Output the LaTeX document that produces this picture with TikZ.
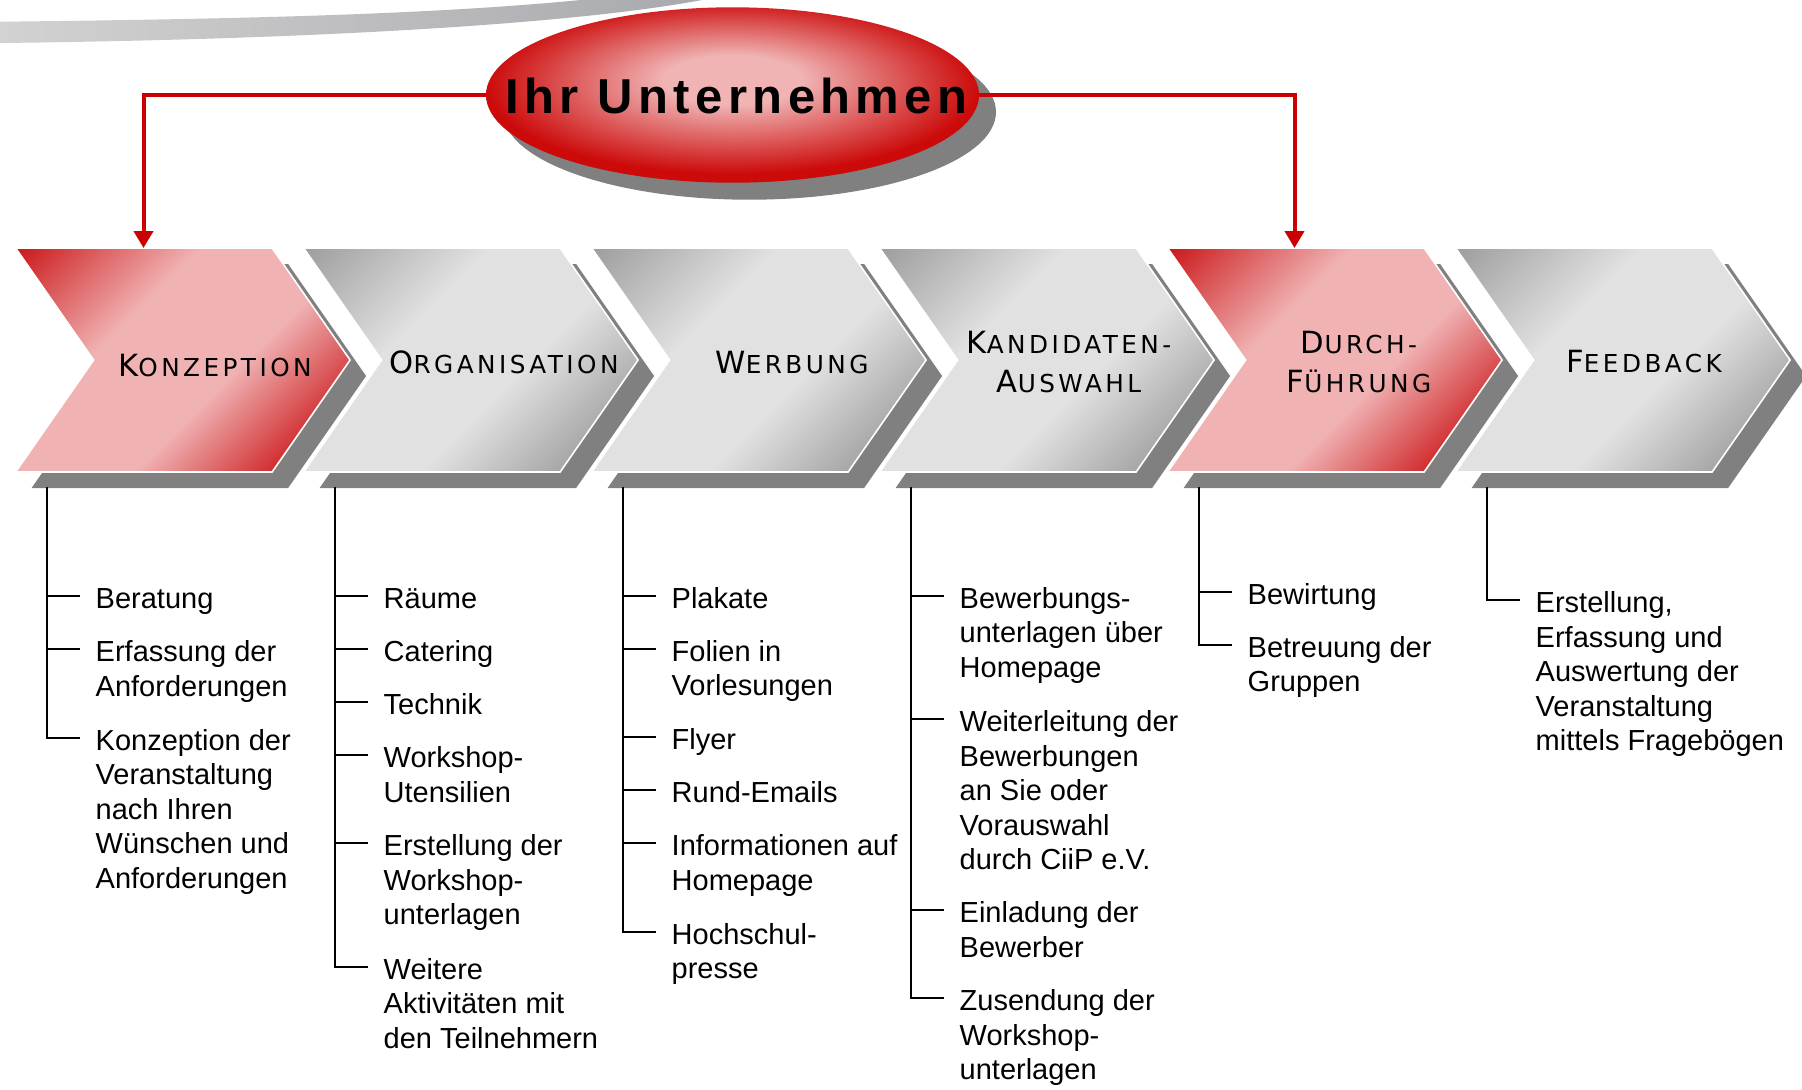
\documentclass[tikz,border=0pt]{standalone}
\usepackage{fontspec}
\setmainfont{Liberation Sans}
\newfontfamily\titlefont[LetterSpace=11]{Liberation Sans}
\newfontfamily\chevfont[LetterSpace=14]{DejaVu Sans}
\usetikzlibrary{shapes.geometric,arrows.meta}
\definecolor{rdark}{HTML}{CC1A1C}
\definecolor{rlight}{HTML}{F0B2B3}
\definecolor{gdark}{HTML}{9E9E9E}
\definecolor{glight}{HTML}{E1E1E1}
\definecolor{shad}{HTML}{808080}
\definecolor{arrred}{HTML}{CC0000}
\definecolor{ellred}{HTML}{CC0A0A}
\definecolor{ellpink}{HTML}{F0B4B4}
\definecolor{swl}{HTML}{D2D2D2}
\definecolor{swr}{HTML}{A8A9AD}
\pgfdeclarehorizontalshading{chevR}{100bp}{color(0bp)=(rdark); color(15bp)=(rdark); color(38bp)=(rlight); color(58bp)=(rlight); color(78bp)=(rdark); color(100bp)=(rdark)}
\pgfdeclarehorizontalshading{chevG}{100bp}{color(0bp)=(gdark); color(15bp)=(gdark); color(38bp)=(glight); color(58bp)=(glight); color(78bp)=(gdark); color(100bp)=(gdark)}
\pgfdeclareradialshading{ellshade}{\pgfpoint{0bp}{5bp}}{color(0bp)=(ellpink); color(7bp)=(ellpink); color(25bp)=(ellred); color(50bp)=(ellred)}

\newcommand\BigL[1]{{\fontsize{15.3pt}{19.2pt}\selectfont #1}}
\newcommand\SmL[1]{{\fontsize{12.35pt}{19.2pt}\selectfont #1}}

\newcommand\chevshape[2]{%
  \fill[shad] ({#1+16},264) -- ({#1+272.5},264) -- ({#1+350.5},376) -- ({#1+272.5},488) -- ({#1+16},488) -- ({#1+94},376) -- cycle;
  \path[shade, shading=#2, shading angle=-45, draw=white, line width=0.8pt] (#1,248) -- ({#1+256.5},248) -- ({#1+334.5},360) -- ({#1+256.5},472) -- (#1,472) -- ({#1+78},360) -- cycle;}

% #1 name, #2 column, #3 baseline of first line, #4 number of lines, #5 text
\newcommand\listentry[5]{%
  \node[listtxt] (#1) at ({95.3+288*#2},{#3+1.5+(#4-1)*34.5}) {#5};
  \draw[tickline] ({46.7+288*#2},{#3-11}) -- ++(32.5,0);}
\newcommand\listspine[2]{\draw[tickline] ({46.7+288*#1},488) -- ({46.7+288*#1},{#2-11});}

\tikzset{
  listtxt/.style={anchor=base west, inner sep=0pt, align=left, font=\fontsize{14.5pt}{17.25pt}\selectfont},
  tickline/.style={draw=black, line width=1pt, line cap=rect},
  chevlbl/.style={font=\chevfont\fontsize{12.35pt}{19.2pt}\selectfont, anchor=base, inner sep=0pt, align=center},
  conn/.style={draw=arrred, line width=2pt, -{Triangle[length=8.5pt,width=9.5pt]}}
}

\begin{document}
\begin{tikzpicture}[x=0.5pt,y=-0.5pt]
\useasboundingbox (0,0) rectangle (1802,1089);
\clip (0,0) rectangle (1802,1089);
\fill[white] (0,0) rectangle (1802,1089);

% swoosh
\shade[left color=swl, right color=swr] (0,43) .. controls (350,39) and (600,21) .. (712,-2) -- (600,-2) .. controls (450,14) and (250,19) .. (0,21.7) -- cycle;

% ellipse
\node[ellipse, fill=shad, minimum width=246.5pt, minimum height=87.7pt, inner sep=0pt] (ellshadow) at (749.5,112) {};
\node[ellipse, shading=ellshade, minimum width=246.5pt, minimum height=87.7pt, inner sep=0pt] (ell) at (732.5,95) {};
\node[font={\titlefont\bfseries\fontsize{24.5pt}{28pt}\selectfont}, anchor=base, inner sep=0pt] (title) at (736.5,113.8) {Ihr Unternehmen};

% chevrons
\chevshape{15.6}{chevR}
\chevshape{303.6}{chevG}
\chevshape{591.6}{chevG}
\chevshape{879.6}{chevG}
\chevshape{1167.6}{chevR}
\chevshape{1455.6}{chevG}

\coordinate (c1top) at (143.5,248);
\coordinate (c5top) at (1294.5,248);
\draw[conn] (ell.west) -| (c1top);
\draw[conn] (ell.east) -| (c5top);

\node[chevlbl] (k1) at (215,376.7) {\BigL{K}\SmL{ONZEPTION}};
\node[chevlbl] (k2) at (504,373.3) {\BigL{O}\SmL{RGANISATION}};
\node[chevlbl] (k3) at (792,373.5) {\BigL{W}\SmL{ERBUNG}};
\node[chevlbl] (k4) at (1069,392.3) {\BigL{K}\SmL{ANDIDATEN-}\\\BigL{A}\SmL{USWAHL}};
\node[chevlbl] (k5) at (1359,392.3) {\BigL{D}\SmL{URCH-}\\\BigL{F}\SmL{ÜHRUNG}};
\node[chevlbl] (k6) at (1644,372.7) {\BigL{F}\SmL{EEDBACK}};

% column 1
\listspine{0}{748.5}
\listentry{a1}{0}{607}{1}{Beratung}
\listentry{a2}{0}{660}{2}{Erfassung der\\Anforderungen}
\listentry{a3}{0}{748.5}{5}{Konzeption der\\Veranstaltung\\nach Ihren\\Wünschen und\\Anforderungen}
% column 2
\listspine{1}{977.5}
\listentry{b1}{1}{606.5}{1}{Räume}
\listentry{b2}{1}{659.8}{1}{Catering}
\listentry{b3}{1}{713.1}{1}{Technik}
\listentry{b4}{1}{766.4}{2}{Workshop-\\Utensilien}
\listentry{b5}{1}{854.3}{3}{Erstellung der\\Workshop-\\unterlagen}
\listentry{b6}{1}{977.5}{3}{Weitere\\Aktivitäten mit\\den Teilnehmern}
% column 3
\listspine{2}{942.8}
\listentry{c1}{2}{606.5}{1}{Plakate}
\listentry{c2}{2}{659.8}{2}{Folien in\\Vorlesungen}
\listentry{c3}{2}{747.7}{1}{Flyer}
\listentry{c4}{2}{801.0}{1}{Rund-Emails}
\listentry{c5}{2}{854.3}{2}{Informationen auf\\Homepage}
\listentry{c6}{2}{942.8}{2}{Hochschul-\\presse}
% column 4
\listspine{3}{1009.3}
\listentry{d1}{3}{606.5}{3}{Bewerbungs-\\unterlagen über\\Homepage}
\listentry{d2}{3}{730.0}{5}{Weiterleitung der\\Bewerbungen\\an Sie oder\\Vorauswahl\\durch CiiP e.V.}
\listentry{d3}{3}{921.3}{2}{Einladung der\\Bewerber}
\listentry{d4}{3}{1009.3}{3}{Zusendung der\\Workshop-\\unterlagen}
% column 5
\listspine{4}{655.8}
\listentry{e1}{4}{602.5}{1}{Bewirtung}
\listentry{e2}{4}{655.8}{2}{Betreuung der\\Gruppen}
% column 6
\listspine{5}{611.2}
\listentry{f1}{5}{611.2}{5}{Erstellung,\\Erfassung und\\Auswertung der\\Veranstaltung\\mittels Fragebögen}
\end{tikzpicture}
\end{document}
